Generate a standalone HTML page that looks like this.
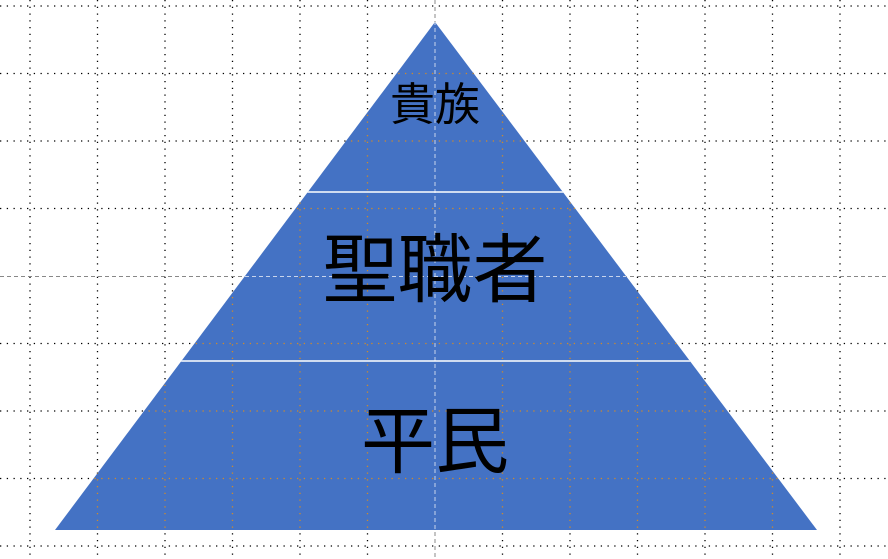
<!DOCTYPE html>
<html><head><meta charset="utf-8"><style>
html,body{margin:0;padding:0;background:#fff;width:888px;height:559px;overflow:hidden}
svg{display:block}
text{font-family:"Liberation Sans","Noto Sans CJK JP",sans-serif;fill:#000}
</style></head><body>
<svg width="888" height="559" viewBox="0 0 888 559">
<defs>
<clipPath id="tri"><polygon points="435,22 817,530 55,530"/></clipPath>
</defs>
<g stroke="#000" stroke-width="1.3" stroke-dasharray="1.3 5.45">
<line x1="0" y1="6" x2="888" y2="6"/><line x1="0" y1="73.5" x2="888" y2="73.5"/><line x1="0" y1="141" x2="888" y2="141"/><line x1="0" y1="208.5" x2="888" y2="208.5"/><line x1="0" y1="343.5" x2="888" y2="343.5"/><line x1="0" y1="411" x2="888" y2="411"/><line x1="0" y1="478.5" x2="888" y2="478.5"/><line x1="0" y1="546" x2="888" y2="546"/>
<line x1="30" y1="0" x2="30" y2="559"/><line x1="97.5" y1="0" x2="97.5" y2="559"/><line x1="165" y1="0" x2="165" y2="559"/><line x1="232.5" y1="0" x2="232.5" y2="559"/><line x1="300" y1="0" x2="300" y2="559"/><line x1="367.5" y1="0" x2="367.5" y2="559"/><line x1="502.5" y1="0" x2="502.5" y2="559"/><line x1="570" y1="0" x2="570" y2="559"/><line x1="637.5" y1="0" x2="637.5" y2="559"/><line x1="705" y1="0" x2="705" y2="559"/><line x1="772.5" y1="0" x2="772.5" y2="559"/><line x1="840" y1="0" x2="840" y2="559"/>
</g>
<g stroke="#888" stroke-width="1" stroke-dasharray="4 3">
<line x1="0" y1="276.5" x2="888" y2="276.5"/><line x1="435" y1="0" x2="435" y2="559"/>
</g>
<polygon points="435,22 817,530 55,530" fill="#4472c4"/>
<g clip-path="url(#tri)">
<g stroke="#d08a2a" stroke-width="1.3" stroke-dasharray="1.3 5.45">
<line x1="0" y1="73.5" x2="888" y2="73.5"/><line x1="0" y1="141" x2="888" y2="141"/><line x1="0" y1="208.5" x2="888" y2="208.5"/><line x1="0" y1="343.5" x2="888" y2="343.5"/><line x1="0" y1="411" x2="888" y2="411"/><line x1="0" y1="478.5" x2="888" y2="478.5"/>
<line x1="97.5" y1="0" x2="97.5" y2="559"/><line x1="165" y1="0" x2="165" y2="559"/><line x1="232.5" y1="0" x2="232.5" y2="559"/><line x1="300" y1="0" x2="300" y2="559"/><line x1="367.5" y1="0" x2="367.5" y2="559"/><line x1="502.5" y1="0" x2="502.5" y2="559"/><line x1="570" y1="0" x2="570" y2="559"/><line x1="637.5" y1="0" x2="637.5" y2="559"/><line x1="705" y1="0" x2="705" y2="559"/><line x1="772.5" y1="0" x2="772.5" y2="559"/>
</g>
<g stroke="#c8d4ec" stroke-width="1" stroke-dasharray="4 3">
<line x1="0" y1="276.5" x2="888" y2="276.5"/><line x1="435" y1="0" x2="435" y2="559"/>
</g>
<line x1="0" y1="192" x2="888" y2="192" stroke="#fff" stroke-width="1.5"/>
<line x1="0" y1="361" x2="888" y2="361" stroke="#fff" stroke-width="1.5"/>
</g>
<text x="435" y="120" font-size="45" text-anchor="middle">貴族</text>
<text x="435" y="296" font-size="75" text-anchor="middle">聖職者</text>
<text x="435" y="467" font-size="74" text-anchor="middle">平民</text>
</svg>
</body></html>
